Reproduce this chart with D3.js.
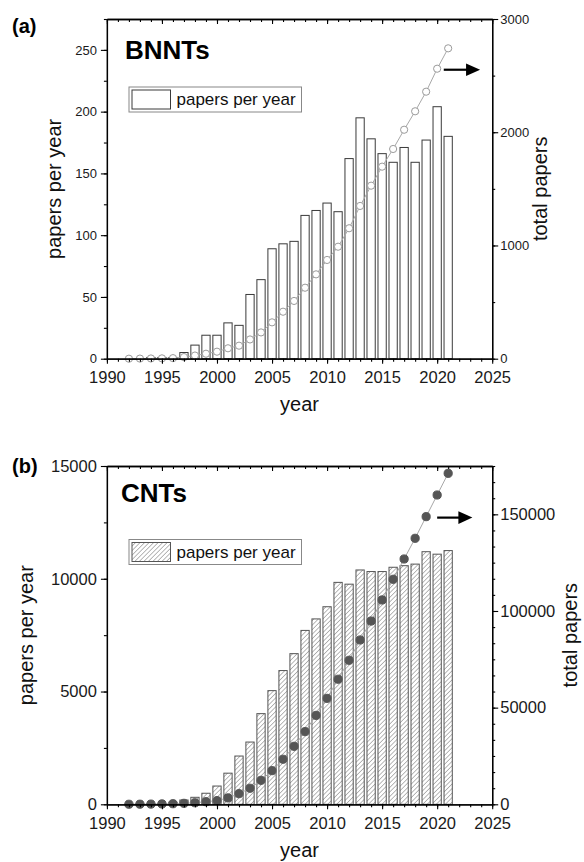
<!DOCTYPE html>
<html>
<head>
<meta charset="utf-8">
<script src="https://cdn.jsdelivr.net/npm/d3@7"></script>
<style>
  body { margin: 0; background: #fff; }
  svg { display: block; }
  text { font-family: "Liberation Sans", Arial, sans-serif; }
</style>
</head>
<body>
<svg id="chart"></svg>
<script>
// data
var years = [1992, 1993, 1994, 1995, 1996, 1997, 1998, 1999, 2000, 2001,
             2002, 2003, 2004, 2005, 2006, 2007, 2008, 2009, 2010, 2011,
             2012, 2013, 2014, 2015, 2016, 2017, 2018, 2019, 2020, 2021];

var bnntPerYear = [0, 0, 1, 1, 1, 5, 11, 19, 19, 29,
                   27, 52, 64, 89, 93, 95, 116, 120, 126, 119,
                   162, 195, 178, 166, 159, 171, 159, 177, 204, 180];
var bnntTotal = [0, 1, 2, 3, 5, 14, 28, 44, 62, 92,
                 115, 170, 232, 321, 415, 510, 627, 745, 872, 989,
                 1152, 1349, 1528, 1696, 1852, 2022, 2185, 2358, 2561, 2741];

var cntPerYear = [10, 20, 30, 40, 90, 190, 310, 490, 810, 1380,
                  2140, 2760, 4020, 5040, 5930, 6680, 7710, 8220, 8760, 9840,
                  9760, 10390, 10320, 10320, 10510, 10580, 10650, 11200, 11090, 11250];
var cntTotal = [20, 50, 100, 200, 300, 500, 800, 1350, 1900, 3300,
                5500, 8300, 12400, 17400, 23300, 30000, 37600, 46000, 54800, 64700,
                74500, 85000, 94800, 105700, 116400, 126900, 137600, 148800, 160000, 171200];

var yearTicks = [1990, 1995, 2000, 2005, 2010, 2015, 2020, 2025];
var bnntLeftTicks = [0, 50, 100, 150, 200, 250];
var bnntRightTicks = [0, 1000, 2000, 3000];
var cntLeftTicks = [0, 5000, 10000, 15000];
var cntRightTicks = [0, 50000, 100000, 150000];

var W = 584, H = 862;
var svg = d3.select("#chart").attr("width", W).attr("height", H);
svg.append("rect").attr("width", W).attr("height", H).attr("fill", "white");

var defs = svg.append("defs");
var pat = defs.append("pattern")
    .attr("id", "hatch")
    .attr("patternUnits", "userSpaceOnUse")
    .attr("width", 3.2).attr("height", 3.2)
    .attr("patternTransform", "rotate(45)");
pat.append("rect").attr("width", 3.2).attr("height", 3.2).attr("fill", "white");
pat.append("line")
    .attr("x1", 0).attr("y1", 0).attr("x2", 0).attr("y2", 3.2)
    .attr("stroke", "#808080").attr("stroke-width", 1.1);

var xLeft = 106.9, xRight = 492.2;

function drawPanel(cfg) {
    var g = svg.append("g");
    var x = d3.scaleLinear().domain([1990, 2025]).range([xLeft, xRight]);
    var yL = d3.scaleLinear().domain([0, cfg.leftMax]).range([cfg.bottom, cfg.top]);
    var yR = d3.scaleLinear().domain([0, cfg.rightMax]).range([cfg.bottom, cfg.top]);
    var bw = (x(1991) - x(1990)) * 0.75;

    // bars
    g.selectAll("rect.bar")
        .data(years)
        .enter().append("rect")
        .attr("class", "bar")
        .attr("x", function (d) { return x(d) - bw / 2; })
        .attr("width", bw)
        .attr("y", function (d, i) { return yL(cfg.perYear[i]); })
        .attr("height", function (d, i) { return cfg.bottom - yL(cfg.perYear[i]); })
        .attr("fill", cfg.barFill)
        .attr("stroke", cfg.barStroke)
        .attr("stroke-width", 1);

    // cumulative line
    var line = d3.line()
        .x(function (d) { return x(d); })
        .y(function (d, i) { return yR(cfg.total[i]); });
    g.append("path")
        .datum(years)
        .attr("fill", "none")
        .attr("stroke", "#a8a8a8")
        .attr("stroke-width", 1)
        .attr("d", line);

    g.selectAll("circle.dot")
        .data(years)
        .enter().append("circle")
        .attr("class", "dot")
        .attr("cx", function (d) { return x(d); })
        .attr("cy", function (d, i) { return yR(cfg.total[i]); })
        .attr("r", cfg.dotR)
        .attr("fill", cfg.dotFill)
        .attr("stroke", cfg.dotStroke)
        .attr("stroke-width", 1);

    // axes
    function styleAxis(sel, fs) {
        sel.selectAll("path.domain").attr("stroke", "#000").attr("stroke-width", 1.3);
        sel.selectAll(".tick line").attr("stroke", "#000").attr("stroke-width", 1.1);
        sel.selectAll("text").attr("fill", "#1a1a1a").attr("font-size", fs)
            .attr("font-family", "'Liberation Sans', Arial, sans-serif");
    }

    var minorYears = d3.range(1990, 2026);

    var bx = g.append("g").attr("transform", "translate(0," + cfg.bottom + ")")
        .call(d3.axisBottom(x).tickValues(minorYears).tickSize(3).tickSizeOuter(0).tickFormat(""));
    styleAxis(bx, 16.5);
    var bxM = g.append("g").attr("transform", "translate(0," + cfg.bottom + ")")
        .call(d3.axisBottom(x).tickValues(yearTicks).tickSize(5).tickSizeOuter(0)
            .tickPadding(8).tickFormat(d3.format("d")));
    styleAxis(bxM, 16.5);

    var tx = g.append("g").attr("transform", "translate(0," + cfg.top + ")")
        .call(d3.axisTop(x).tickValues(minorYears).tickSize(-3).tickSizeOuter(0).tickFormat(""));
    styleAxis(tx, 16);
    var txM = g.append("g").attr("transform", "translate(0," + cfg.top + ")")
        .call(d3.axisTop(x).tickValues(yearTicks).tickSize(-5).tickSizeOuter(0).tickFormat(""));
    styleAxis(txM, 16);

    var ly = g.append("g").attr("transform", "translate(" + xLeft + ",0)")
        .call(d3.axisLeft(yL).tickValues(d3.range(0, cfg.leftMax + 1, cfg.leftMinor))
            .tickSize(3).tickSizeOuter(0).tickFormat(""));
    styleAxis(ly, cfg.tickFont);
    var lyM = g.append("g").attr("transform", "translate(" + xLeft + ",0)")
        .call(d3.axisLeft(yL).tickValues(cfg.leftTicks).tickSize(6).tickSizeOuter(0)
            .tickPadding(4).tickFormat(d3.format("d")));
    styleAxis(lyM, cfg.tickFont);

    var ry = g.append("g").attr("transform", "translate(" + xRight + ",0)")
        .call(d3.axisRight(yR).tickValues(d3.range(0, cfg.rightMax + 1, cfg.rightMinor))
            .tickSize(3).tickSizeOuter(0).tickFormat(""));
    styleAxis(ry, cfg.tickFont);
    var ryM = g.append("g").attr("transform", "translate(" + xRight + ",0)")
        .call(d3.axisRight(yR).tickValues(cfg.rightTicks).tickSize(6).tickSizeOuter(0)
            .tickPadding(2).tickFormat(d3.format("d")));
    styleAxis(ryM, cfg.tickFont);

    // axis titles
    g.append("text")
        .attr("transform", "translate(" + cfg.leftTitleX + "," + (cfg.top + cfg.bottom) / 2 + ") rotate(-90)")
        .attr("text-anchor", "middle")
        .attr("font-size", 20)
        .attr("fill", "#111")
        .text("papers per year");
    g.append("text")
        .attr("transform", "translate(" + cfg.rightTitleX + "," + (cfg.top + cfg.bottom) / 2 + ") rotate(-90)")
        .attr("text-anchor", "middle")
        .attr("font-size", 20)
        .attr("fill", "#111")
        .text("total papers");
    g.append("text")
        .attr("x", (xLeft + xRight) / 2)
        .attr("y", cfg.bottom + 52.7)
        .attr("text-anchor", "middle")
        .attr("font-size", 20)
        .attr("fill", "#111")
        .text("year");

    // panel letter and name
    g.append("text")
        .attr("x", 12).attr("y", cfg.letterY)
        .attr("font-size", 20).attr("font-weight", "bold")
        .attr("fill", "#000")
        .text(cfg.letter);
    g.append("text")
        .attr("x", cfg.nameX).attr("y", cfg.nameY)
        .attr("font-size", 26).attr("font-weight", "bold")
        .attr("fill", "#000")
        .text(cfg.name);

    // legend
    var lg = g.append("g").attr("transform", "translate(129," + cfg.legendY + ")");
    lg.append("rect")
        .attr("width", 172.5).attr("height", 25)
        .attr("fill", "white").attr("stroke", "#888").attr("stroke-width", 1);
    lg.append("rect")
        .attr("x", 3).attr("y", 3).attr("width", 38.5).attr("height", 19)
        .attr("fill", cfg.barFill).attr("stroke", cfg.barStroke).attr("stroke-width", 1);
    lg.append("text")
        .attr("x", 47.5).attr("y", 18.3)
        .attr("font-size", 17).attr("fill", "#111")
        .text("papers per year");

    // arrow pointing at the right axis
    var ay = yR(cfg.arrowValue), ax0 = x(cfg.arrowFrom), ax1 = x(cfg.arrowTo);
    g.append("line")
        .attr("x1", ax0).attr("x2", ax1 - 12).attr("y1", ay).attr("y2", ay)
        .attr("stroke", "#000").attr("stroke-width", 2.2);
    g.append("path")
        .attr("d", "M" + ax1 + "," + ay + "L" + (ax1 - 14) + "," + (ay - 6.3) + "L" + (ax1 - 14) + "," + (ay + 6.3) + "Z")
        .attr("fill", "#000");
}

drawPanel({
    top: 19, bottom: 358.7,
    leftMax: 275, leftMinor: 25, leftTicks: bnntLeftTicks,
    rightMax: 3000, rightMinor: 500, rightTicks: bnntRightTicks,
    perYear: bnntPerYear, total: bnntTotal,
    barFill: "white", barStroke: "#3a3a3a",
    dotR: 3.6, dotFill: "white", dotStroke: "#9a9a9a",
    tickFont: 13,
    leftTitleX: 61, rightTitleX: 546.5,
    letter: "(a)", letterY: 32.5,
    name: "BNNTs", nameX: 125, nameY: 59.3,
    legendY: 87,
    arrowValue: 2552, arrowFrom: 2020.6, arrowTo: 2023.9
});

drawPanel({
    top: 466, bottom: 804.3,
    leftMax: 15000, leftMinor: 2500, leftTicks: cntLeftTicks,
    rightMax: 175000, rightMinor: 50000 / 6, rightTicks: cntRightTicks,
    perYear: cntPerYear, total: cntTotal,
    barFill: "url(#hatch)", barStroke: "#555",
    dotR: 4.1, dotFill: "#555", dotStroke: "#555",
    tickFont: 16.5,
    leftTitleX: 33, rightTitleX: 577,
    letter: "(b)", letterY: 472.5,
    name: "CNTs", nameX: 121, nameY: 501.7,
    legendY: 539.5,
    arrowValue: 148300, arrowFrom: 2020.0, arrowTo: 2023.2
});
</script>
</body>
</html>
